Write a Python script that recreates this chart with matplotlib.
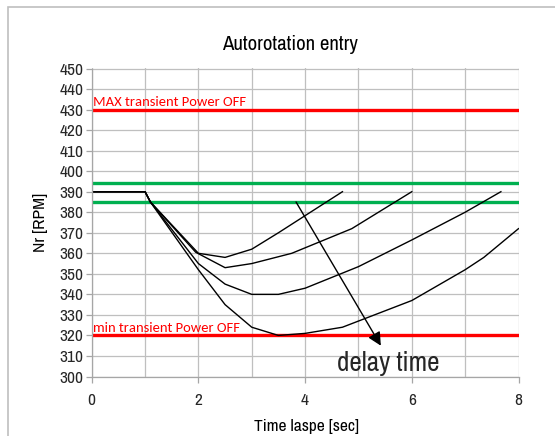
import matplotlib
matplotlib.use("Agg")
import matplotlib.pyplot as plt
from matplotlib.patches import Rectangle

narrow = ['Archivo Narrow', 'DejaVu Sans']
label_font = ['Carlito', 'DejaVu Sans']

# ---- data ----
title = "Autorotation entry"
xlabel = "Time laspe [sec]"
ylabel = "Nr [RPM]"

curve1_t = [0, 1, 1.1, 2, 2.5, 3, 3.5, 4.7]
curve1_nr = [390, 390, 385, 360, 358, 362, 370, 390]

curve2_t = [0, 1, 1.1, 1.95, 2.5, 3, 3.75, 4.875, 6]
curve2_nr = [390, 390, 385, 360.5, 353, 355, 360, 372, 390]

curve3_t = [0, 1, 1.1, 2, 2.5, 3, 3.5, 4, 5, 6, 7, 7.67]
curve3_nr = [390, 390, 385, 355, 345, 340, 340, 343, 353.5, 366.5, 380, 390]

curve4_t = [0, 1, 1.1, 2, 2.5, 3, 3.5, 4, 4.7, 6, 7, 7.35, 8]
curve4_nr = [390, 390, 385, 352, 335, 324, 320, 321, 324, 337, 352, 358, 372]

max_limit = 430
min_limit = 320
green_limits = [394, 385]
max_label = "MAX transient Power OFF"
min_label = "min transient Power OFF"

arrow_start = (3.83, 385)
arrow_end = (5.42, 315)
arrow_text = "delay time"

x_ticks = [0, 2, 4, 6, 8]
y_ticks = list(range(300, 451, 10))

# ---- figure ----
fig = plt.figure(figsize=(5.55, 4.36), dpi=100)
fig.patches.append(Rectangle((8 / 555, -0.05), 1.0, 1 - 7 / 436 + 0.05,
                             transform=fig.transFigure, fill=False,
                             edgecolor='#bfbfbf', lw=1.2, zorder=0))

ax = fig.add_axes([91.7 / 555, 1 - 376.5 / 436, (518.5 - 91.7) / 555, 308 / 436])
ax.set_xlim(0, 8)
ax.set_ylim(300, 450)
ax.set_xticks(x_ticks)
ax.set_xticks([1, 3, 5, 7], minor=True)
ax.set_yticks(y_ticks)
ax.grid(True, which='both', color='#bfbfbf', lw=0.9)
ax.set_axisbelow(True)
for s in ['top', 'right']:
    ax.spines[s].set_visible(False)
for s in ['left', 'bottom']:
    ax.spines[s].set_color('#a6a6a6')
    ax.spines[s].set_linewidth(0.9)
ax.tick_params(which='major', length=4, color='#a6a6a6', width=0.9)
ax.tick_params(which='minor', length=0)
ax.tick_params(axis='x', pad=8)
ax.tick_params(axis='y', pad=2)
for lbl in ax.get_xticklabels() + ax.get_yticklabels():
    lbl.set_fontfamily(narrow)
    lbl.set_fontsize(12.5)
    lbl.set_color('#262626')

ax.axhline(max_limit, color='#ff0000', lw=2.4)
ax.axhline(min_limit, color='#ff0000', lw=2.4)
for g in green_limits:
    ax.axhline(g, color='#00b050', lw=2.4)

for t, nr in [(curve1_t, curve1_nr), (curve2_t, curve2_nr),
              (curve3_t, curve3_nr), (curve4_t, curve4_nr)]:
    ax.plot(t, nr, color='black', lw=1.0)

ax.text(0.03, 431.8, max_label, color='#ff0000', fontsize=10.5,
        family=label_font, va='baseline')
ax.text(0.03, 321.8, min_label, color='#ff0000', fontsize=10.5,
        family=label_font, va='baseline')

ax.annotate('', xy=arrow_end, xytext=arrow_start,
            arrowprops=dict(arrowstyle='-|>', color='black', lw=1.0,
                            mutation_scale=20, shrinkA=0, shrinkB=0))
ax.text(4.59, 302.5, arrow_text, fontsize=19.5, family=narrow, va='baseline',
        color='#262626')

fig.text(290 / 555, 1 - 44 / 436, title, fontsize=15, family=narrow,
         ha='center', va='center', color='black')
fig.text(306 / 555, 1 - 426 / 436, xlabel, fontsize=12.5, family=narrow,
         ha='center', va='center', fontweight='bold', color='black')
fig.text(41 / 555, 1 - 222 / 436, ylabel, fontsize=12.5, family=narrow,
         ha='center', va='center', rotation=90, fontweight='bold',
         color='black')

fig.savefig('out.png', dpi=100)
